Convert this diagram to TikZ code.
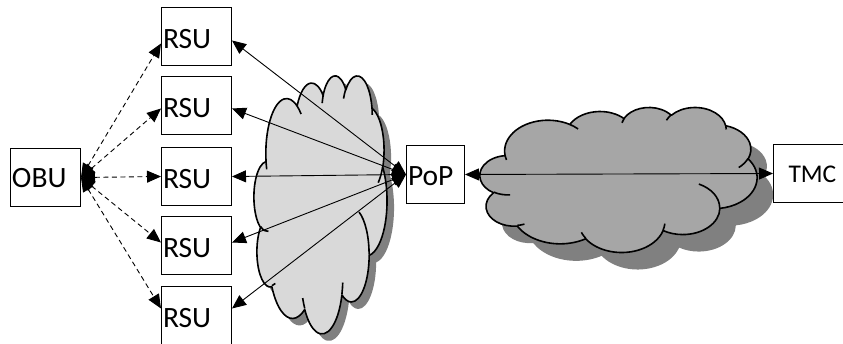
\documentclass[tikz,border=0pt]{standalone}
\usepackage{fontspec}
\setmainfont{Carlito}
\usetikzlibrary{arrows.meta}

% One puff of the cloud outline: ellipse radii #1,#2, start angle #3 and
% sweep #4 given as directions seen from the centre (y pointing down).
\newcommand\cloudseg[4]{%
  \pgfmathsetmacro\csA{atan2((#1)*sin(#3),(#2)*cos(#3))}%
  \pgfmathsetmacro\csB{atan2((#1)*sin((#3)+(#4)),(#2)*cos((#3)+(#4)))}%
  \pgfmathsetmacro\csD{mod((\csB)-(\csA)+720,360)}%
  \global\let\csA\csA \global\let\csD\csD}
\newcommand\carc[4]{\pgfextra{\cloudseg{#1}{#2}{#3}{#4}} arc[start angle=\csA, delta angle=\csD, x radius=#1pt, y radius=#2pt]}

% cloud outline in a 432 x 432 frame
\newcommand\cloudoutline{(39,143.7)
  \carc{67.53}{91.90}{-190.4875}{123.7805}
  \carc{53.33}{72.67}{-144.1024}{89.9452}
  \carc{43.65}{59.45}{-145.8079}{99.7230}
  \carc{48.57}{65.95}{-130.9861}{117.2417}
  \carc{53.33}{72.73}{-78.7089}{109.0269}
  \carc{67.75}{92.20}{-46.2673}{130.2690}
  \carc{57.85}{78.67}{0.6250}{114.0333}
  \carc{67.52}{92.15}{22.4516}{115.1726}
  \carc{77.20}{105.43}{66.2426}{75.7110}
  \carc{43.60}{59.18}{-274.9421}{146.7356}
  \carc{43.45}{59.45}{-246.8285}{152.5189} -- cycle}
% the small inner creases between puffs
\newcommand\cloudcreases{
  (46.93,261.77) \carc{43.45}{59.45}{86.7420}{26.4295}
  (69.28,348.99) \carc{43.60}{59.18}{73.6105}{11.4475}
  (164.78,390.90) \carc{67.52}{92.15}{137.6242}{14.0811}
  (288.27,347.51) \carc{67.52}{92.15}{6.4533}{15.9984}
  (341.29,229.54) \carc{57.85}{78.67}{-70.2924}{70.9174}
  (417.98,153.54) \carc{53.33}{72.73}{30.3180}{27.7515}
  (383.24,54.26) \carc{48.57}{65.95}{-13.7443}{14.8589}
  (290.78,39.52) \carc{48.57}{65.95}{-149.1815}{18.1954}
  (221.41,47.20) \carc{43.65}{59.45}{-163.4943}{17.6864}
  (140.00,51.92) \carc{67.53}{91.90}{-66.7070}{12.3194}
  (41.27,157.89) \carc{67.53}{91.90}{157.6544}{11.8582}}

% cloud with drop shadow: left, top, width, height, fill, shadow dx, dy
\newcommand\netcloud[7]{%
  \begin{scope}[shift={(#1+#6,-#2-#7)}, xscale=#3/432, yscale=-#4/432]
    \fill[cloudshadow] \cloudoutline;
  \end{scope}
  \begin{scope}[shift={(#1,-#2)}, xscale=#3/432, yscale=-#4/432]
    \filldraw[cloudedge, fill=#5] \cloudoutline;
    \draw[cloudedge] \cloudcreases;
  \end{scope}}

\definecolor{cloudlight}{HTML}{D9D9D9}
\definecolor{clouddark}{HTML}{A6A6A6}
\definecolor{cloudshadow}{HTML}{808080}

\tikzset{
  cloudedge/.style={line width=1.6pt, line join=round},
  cloudshadow/.style={fill=cloudshadow},
  unit/.style={draw, line width=1pt, rectangle, anchor=north west,
    inner ysep=0pt, inner xsep=1.5pt, align=left,
    text width=67pt, text height=41pt, text depth=17pt,
    font=\fontsize{29.5}{31}\selectfont},
  link/.style={line width=0.9pt, {Triangle[length=14pt,width=12pt]}-{Triangle[length=14pt,width=12pt]}},
  radio/.style={link, dash pattern=on 5pt off 3.5pt},
}

\begin{document}
\begin{tikzpicture}[x=1pt, y=1pt]
  \useasboundingbox (0,0) rectangle (843,-344);

  % access network and core network
  \netcloud{254}{75}{133}{258}{cloudlight}{7}{7}
  \netcloud{480}{107}{277}{145}{clouddark}{16}{17}

  % units
  \node[unit, text height=39pt, text depth=19pt] (obu) at (10,-148) {OBU};
  \node[unit] (r1) at (161,-7) {RSU};
  \node[unit] (r2) at (161,-76) {RSU};
  \node[unit] (r3) at (161,-147) {RSU};
  \node[unit] (r4) at (161,-216) {RSU};
  \node[unit] (r5) at (161,-286) {RSU};
  \node[unit, text width=55pt, text height=40pt, text depth=18pt] (pop) at (406,-145) {PoP};
  \node[unit, inner xsep=15pt, text width=60pt, text height=38pt, text depth=20pt,
        font=\fontsize{25.5}{27}\selectfont] (tmc) at (773,-144) {TMC};

  % radio links from the on-board unit
  \draw[radio] (obu.east) -- ([yshift=-7pt]r1.west);
  \draw[radio] (obu.east) -- ([yshift=-3pt]r2.west);
  \draw[radio] (obu.east) -- (r3.west);
  \draw[radio] (obu.east) -- ([yshift=3pt]r4.west);
  \draw[radio] (obu.east) -- ([yshift=7pt]r5.west);

  % wired links to the point of presence
  \draw[link] (pop.west) -- ([yshift=-4pt]r1.east);
  \draw[link] (pop.west) -- ([yshift=-3pt]r2.east);
  \draw[link] (pop.west) -- (r3.east);
  \draw[link] (pop.west) -- ([yshift=3pt]r4.east);
  \draw[link] (pop.west) -- ([yshift=7pt]r5.east);

  \draw[link] (pop.east) -- (tmc.west);
\end{tikzpicture}
\end{document}
